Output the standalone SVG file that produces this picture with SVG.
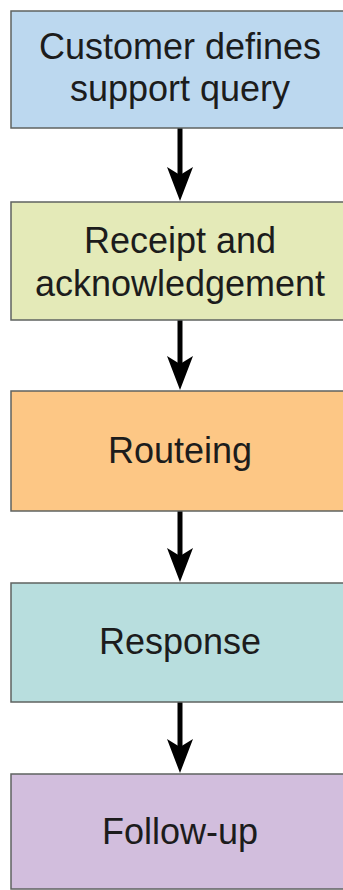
<svg xmlns="http://www.w3.org/2000/svg" width="343" height="890" viewBox="0 0 343 890">
  <style>
    .box { stroke: #5f6360; stroke-width: 1.5; }
    .label { font-family: "Liberation Sans", Arial, Helvetica, sans-serif; font-size: 36px; fill: #1c1c1c; text-anchor: middle; }
    .link { stroke: #000; stroke-width: 5; fill: none; marker-end: url(#head); }
  </style>
  <defs>
    <!-- barbed arrowhead; line ends 20px short of the tip -->
    <marker id="head" markerUnits="userSpaceOnUse" viewBox="-34 -14 34 28" markerWidth="34" markerHeight="28" refX="-20" refY="0" orient="auto" overflow="visible">
      <path d="M0,0 L-34,-13 L-26,0 L-34,13 Z" fill="#000"/>
    </marker>
  </defs>
  <rect width="343" height="890" fill="#fff"/>

  <g id="connectors">
    <line class="link" x1="180" y1="128" x2="180" y2="181"/>
    <line class="link" x1="180" y1="320" x2="180" y2="370"/>
    <line class="link" x1="180" y1="511" x2="180" y2="562"/>
    <line class="link" x1="180" y1="702" x2="180" y2="753"/>
  </g>

  <g id="node-query">
    <rect class="box" x="11" y="11" width="338" height="117" fill="#bcd8ef"/>
    <text class="label" x="180" y="59">Customer defines</text>
    <text class="label" x="180" y="101">support query</text>
  </g>

  <g id="node-receipt">
    <rect class="box" x="11" y="202" width="338" height="118" fill="#e4eab8"/>
    <text class="label" x="180" y="253">Receipt and</text>
    <text class="label" x="180" y="296">acknowledgement</text>
  </g>

  <g id="node-routeing">
    <rect class="box" x="11" y="391" width="338" height="120" fill="#fdc785"/>
    <text class="label" x="180" y="463">Routeing</text>
  </g>

  <g id="node-response">
    <rect class="box" x="11" y="583" width="338" height="119" fill="#b8dede"/>
    <text class="label" x="180" y="654">Response</text>
  </g>

  <g id="node-followup">
    <rect class="box" x="11" y="774" width="338" height="115" fill="#d2bedd"/>
    <text class="label" x="180" y="844">Follow-up</text>
  </g>
</svg>
